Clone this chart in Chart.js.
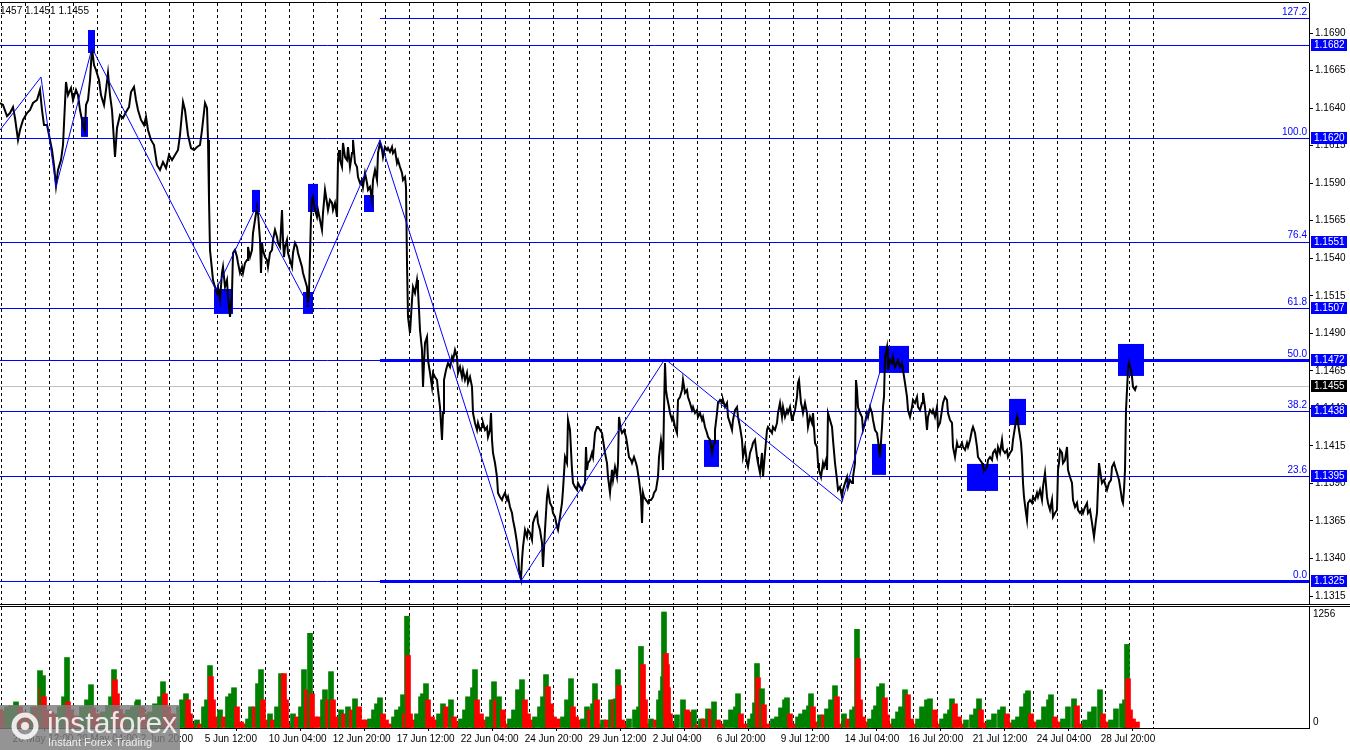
<!DOCTYPE html>
<html>
<head>
<meta charset="utf-8">
<script src="https://cdn.jsdelivr.net/npm/chart.js@4.4.0/dist/chart.umd.min.js"></script>
<style>
  body { margin: 0; background: #fff; width: 1350px; height: 750px; overflow: hidden; position: relative; }
  #price { position: absolute; left: 0; top: 0; width: 1350px; height: 605px; }
  #vol { position: absolute; left: 0; top: 605px; width: 1350px; height: 145px; }
</style>
</head>
<body>
<canvas id="price" width="1350" height="605"></canvas>
<canvas id="vol" width="1350" height="145"></canvas>
<script>
// EURUSD H1, one unit on x = one hourly bar
const priceLine = [
  [0,1.16434],[3,1.16421],[7,1.16347],[10,1.16367],[13,1.16407],[15,1.16334],[18,1.16188],[20,1.16254],
  [23,1.16321],[27,1.16367],[30,1.16387],[33,1.16434],[37,1.16454],[40,1.16521],[42,1.16387],[44,1.16287],
  [47,1.16287],[49,1.16221],[52,1.16121],[54,1.16021],[56,1.15881],[58,1.15988],[61,1.16054],[63,1.16154],
  [66,1.16574],[68,1.16487],[71,1.16534],[73,1.16454],[76,1.16521],[78,1.16487],[80,1.16387],[83,1.16287],
  [85,1.16248],[86,1.16421],[88,1.16454],[90,1.16587],[92,1.16800],[94,1.16687],[96,1.16654],[99,1.16587],
  [101,1.16487],[104,1.16421],[106,1.16521],[108,1.16634],[110,1.16487],[112,1.16387],[115,1.16074],[117,1.16268],
  [120,1.16354],[123,1.16334],[126,1.16374],[129,1.16407],[131,1.16507],[134,1.16541],[136,1.16454],[138,1.16387],
  [141,1.16321],[144,1.16287],[146,1.16341],[148,1.16254],[151,1.16188],[154,1.16154],[157,1.16021],[160,1.15988],
  [163,1.16041],[166,1.16001],[169,1.16088],[172,1.16054],[175,1.16088],[178,1.16121],[180,1.16221],[183,1.16441],
  [185,1.16387],[188,1.16221],[191,1.16134],[194,1.16121],[197,1.16141],[200,1.16154],[202,1.16254],[205,1.16434],
  [207,1.16401],[208,1.16188],[209,1.15788],[210,1.15455],[212,1.15322],[213,1.15255],[215,1.15209],[217,1.15169],
  [218,1.15209],[220,1.15122],[222,1.15302],[223,1.15342],[225,1.15209],[227,1.15255],[228,1.15142],[230,1.15009],
  [232,1.15169],[233,1.15435],[235,1.15455],[237,1.15408],[238,1.15368],[240,1.15302],[242,1.15342],[243,1.15302],
  [245,1.15368],[247,1.15388],[248,1.15475],[250,1.15408],[252,1.15455],[253,1.15568],[255,1.15655],[257,1.15741],
  [258,1.15701],[260,1.15522],[261,1.15302],[262,1.15502],[263,1.15455],[265,1.15408],[267,1.15388],[268,1.15342],
  [270,1.15435],[272,1.15455],[273,1.15522],[275,1.15588],[277,1.15542],[278,1.15502],[280,1.15475],[282,1.15721],
  [283,1.15522],[284,1.15408],[285,1.15475],[287,1.15522],[288,1.15435],[290,1.15388],[292,1.15342],[293,1.15435],
  [295,1.15502],[297,1.15475],[298,1.15435],[300,1.15388],[302,1.15342],[303,1.15302],[305,1.15255],[307,1.15209],
  [308,1.15075],[309,1.15169],[311,1.15675],[312,1.15788],[313,1.15808],[315,1.15721],[317,1.15675],[318,1.15721],
  [320,1.15655],[322,1.15588],[323,1.15701],[325,1.15855],[327,1.15768],[328,1.15721],[330,1.15788],[332,1.15768],
  [333,1.15721],[335,1.15768],[337,1.15675],[338,1.16054],[339,1.16121],[340,1.16054],[342,1.16008],[343,1.16168],
  [345,1.16074],[347,1.16054],[348,1.16141],[350,1.16008],[352,1.16101],[353,1.16188],[355,1.16034],[357,1.16008],
  [358,1.15941],[360,1.15901],[362,1.15921],[363,1.15875],[365,1.15968],[367,1.15901],[368,1.15855],[370,1.15875],
  [372,1.15788],[373,1.15921],[375,1.15988],[377,1.15921],[378,1.16101],[380,1.16168],[382,1.16121],[383,1.16074],
  [385,1.16141],[387,1.16121],[388,1.16134],[390,1.16108],[392,1.16141],[393,1.16101],[395,1.16121],[397,1.16034],
  [398,1.16054],[400,1.16008],[402,1.15968],[403,1.15921],[405,1.15941],[406,1.15875],[407,1.15368],[408,1.15009],
  [410,1.14902],[412,1.15122],[413,1.15209],[415,1.15169],[417,1.15255],[418,1.15189],[420,1.14922],[422,1.14789],
  [423,1.14543],[424,1.14702],[425,1.14836],[427,1.14876],[428,1.14722],[430,1.14636],[432,1.14543],[433,1.14636],
  [435,1.14609],[437,1.14589],[438,1.14523],[440,1.14409],[442,1.14190],[443,1.14369],[444,1.14589],[446,1.14656],
  [448,1.14702],[450,1.14676],[452,1.14742],[453,1.14722],[455,1.14789],[457,1.14742],[458,1.14636],[460,1.14676],
  [462,1.14609],[463,1.14656],[465,1.14589],[467,1.14636],[468,1.14569],[470,1.14609],[472,1.14543],[473,1.14369],
  [475,1.14303],[477,1.14256],[478,1.14303],[480,1.14256],[482,1.14276],[483,1.14303],[485,1.14256],[487,1.14276],
  [488,1.14210],[490,1.14256],[491,1.14369],[492,1.14190],[493,1.14103],[495,1.14036],[497,1.13943],[498,1.13837],
  [500,1.13810],[502,1.13790],[503,1.13810],[505,1.13837],[507,1.13790],[508,1.13810],[510,1.13743],[512,1.13703],
  [513,1.13657],[515,1.13590],[517,1.13504],[518,1.13437],[519,1.13324],[521,1.13264],[522,1.13390],[523,1.13477],
  [525,1.13590],[527,1.13544],[528,1.13590],[530,1.13570],[532,1.13524],[533,1.13637],[535,1.13677],[537,1.13703],
  [538,1.13637],[540,1.13590],[542,1.13504],[543,1.13344],[545,1.13590],[547,1.13810],[548,1.13857],[550,1.13770],
  [552,1.13743],[553,1.13703],[555,1.13677],[557,1.13610],[558,1.13590],[560,1.13677],[562,1.13770],[563,1.13857],
  [565,1.14076],[567,1.14036],[568,1.14323],[570,1.14256],[572,1.13990],[573,1.13903],[575,1.13877],[577,1.13857],
  [578,1.13903],[580,1.13877],[582,1.13857],[583,1.13877],[585,1.13903],[586,1.14143],[587,1.13990],[588,1.14036],
  [590,1.14056],[592,1.14103],[593,1.14076],[595,1.14236],[597,1.14276],[598,1.14276],[600,1.14256],[602,1.14236],
  [603,1.14190],[605,1.14103],[607,1.14036],[608,1.13943],[610,1.13837],[612,1.13990],[613,1.13923],[615,1.14010],
  [617,1.13943],[618,1.14036],[619,1.14343],[621,1.14256],[622,1.14236],[624,1.14256],[626,1.14210],[627,1.14170],
  [629,1.14076],[631,1.14056],[632,1.14036],[634,1.14076],[636,1.14036],[637,1.14010],[639,1.13923],[641,1.13810],
  [642,1.13637],[643,1.13837],[644,1.13810],[646,1.13790],[648,1.13770],[649,1.13790],[651,1.13790],[653,1.13810],
  [654,1.13837],[656,1.13857],[658,1.13943],[659,1.14076],[661,1.14190],[662,1.14143],[663,1.13990],[664,1.14389],
  [665,1.14702],[666,1.14523],[667,1.14476],[669,1.14409],[670,1.14369],[672,1.14323],[673,1.14343],[675,1.14276],
  [677,1.14236],[678,1.14456],[680,1.14476],[682,1.14523],[683,1.14589],[685,1.14503],[687,1.14523],[688,1.14476],
  [690,1.14436],[692,1.14389],[693,1.14409],[695,1.14369],[697,1.14389],[698,1.14343],[700,1.14369],[702,1.14323],
  [703,1.14343],[705,1.14276],[707,1.14236],[708,1.14210],[710,1.14190],[712,1.14103],[713,1.14143],[714,1.14170],
  [715,1.14256],[717,1.14369],[718,1.14436],[720,1.14456],[722,1.14436],[723,1.14456],[725,1.14409],[727,1.14436],
  [728,1.14343],[730,1.14303],[732,1.14256],[733,1.14323],[735,1.14389],[737,1.14409],[738,1.14343],[740,1.14276],
  [742,1.14190],[743,1.14076],[745,1.14143],[747,1.14036],[748,1.14010],[750,1.14103],[752,1.14143],[753,1.14170],
  [755,1.14190],[757,1.14076],[758,1.14036],[760,1.13970],[762,1.14103],[763,1.13943],[765,1.14103],[767,1.14256],
  [768,1.14276],[770,1.14256],[772,1.14236],[773,1.14276],[775,1.14256],[777,1.14303],[778,1.14369],[780,1.14436],
  [782,1.14343],[783,1.14409],[785,1.14343],[787,1.14389],[788,1.14369],[790,1.14409],[792,1.14323],[793,1.14343],
  [795,1.14389],[797,1.14476],[798,1.14569],[799,1.14589],[801,1.14436],[802,1.14409],[803,1.14369],[805,1.14436],
  [807,1.14369],[808,1.14276],[810,1.14343],[812,1.14303],[813,1.14369],[815,1.14170],[817,1.14143],[818,1.14036],
  [819,1.13990],[821,1.13943],[823,1.14036],[824,1.14010],[826,1.14056],[827,1.13990],[828,1.14369],[830,1.14323],
  [832,1.14276],[833,1.14190],[835,1.14036],[837,1.13923],[838,1.13857],[840,1.13877],[842,1.13810],[843,1.13857],
  [845,1.13903],[847,1.13943],[848,1.13877],[850,1.13923],[852,1.13903],[853,1.13943],[855,1.14036],[856,1.14589],
  [857,1.14523],[858,1.14409],[860,1.14369],[862,1.14343],[863,1.14256],[865,1.14303],[867,1.14369],[868,1.14343],
  [870,1.14409],[872,1.14369],[873,1.14323],[875,1.14256],[877,1.14236],[878,1.14190],[880,1.14076],[882,1.14276],
  [883,1.14409],[884,1.14476],[885,1.14742],[887,1.14809],[888,1.14656],[890,1.14722],[892,1.14702],[893,1.14742],
  [895,1.14676],[897,1.14702],[898,1.14722],[900,1.14676],[902,1.14702],[903,1.14656],[905,1.14569],[907,1.14476],
  [908,1.14389],[910,1.14343],[912,1.14409],[913,1.14456],[915,1.14436],[917,1.14476],[918,1.14409],[920,1.14389],
  [922,1.14436],[923,1.14503],[925,1.14409],[927,1.14256],[928,1.14343],[930,1.14389],[932,1.14369],[933,1.14389],
  [935,1.14343],[937,1.14409],[938,1.14276],[940,1.14303],[942,1.14389],[943,1.14436],[945,1.14476],[947,1.14456],
  [948,1.14369],[950,1.14323],[952,1.14303],[953,1.14143],[955,1.14076],[957,1.14170],[958,1.14143],[960,1.14143],
  [962,1.14170],[963,1.14143],[965,1.14123],[967,1.14170],[968,1.14143],[970,1.14190],[972,1.14256],[973,1.14276],
  [975,1.14236],[977,1.14143],[978,1.14076],[980,1.14056],[982,1.14036],[983,1.14010],[985,1.13990],[987,1.14010],
  [988,1.14056],[990,1.14076],[992,1.14056],[993,1.14103],[995,1.14123],[997,1.14076],[998,1.14143],[1000,1.14103],
  [1002,1.14190],[1003,1.14123],[1005,1.14103],[1007,1.14123],[1008,1.14076],[1010,1.14103],[1012,1.14123],[1013,1.14190],
  [1015,1.14276],[1017,1.14343],[1018,1.14303],[1019,1.14256],[1021,1.14170],[1022,1.14076],[1023,1.13903],[1024,1.13810],
  [1026,1.13703],[1027,1.13657],[1028,1.13770],[1030,1.13790],[1032,1.13770],[1033,1.13810],[1035,1.13790],[1037,1.13837],
  [1038,1.13810],[1040,1.13857],[1042,1.13790],[1043,1.13877],[1045,1.13970],[1047,1.13810],[1048,1.13770],[1050,1.13723],
  [1052,1.13790],[1053,1.13677],[1055,1.13703],[1057,1.13723],[1058,1.13990],[1059,1.14036],[1060,1.14123],[1062,1.14103],
  [1063,1.14036],[1065,1.14056],[1067,1.14143],[1068,1.13990],[1070,1.13943],[1072,1.13903],[1073,1.13790],[1075,1.13743],
  [1077,1.13770],[1078,1.13723],[1080,1.13703],[1082,1.13723],[1083,1.13703],[1085,1.13743],[1087,1.13770],[1088,1.13703],
  [1090,1.13723],[1092,1.13637],[1093,1.13590],[1094,1.13544],[1096,1.13657],[1097,1.13703],[1098,1.13877],[1099,1.14036],
  [1101,1.13943],[1102,1.13903],[1104,1.13923],[1106,1.13877],[1107,1.13857],[1109,1.13903],[1111,1.13923],[1112,1.14010],
  [1114,1.14036],[1116,1.13990],[1117,1.13970],[1119,1.13923],[1121,1.13837],[1122,1.13790],[1123,1.13770],[1124,1.13857],
  [1125,1.13990],[1126,1.14389],[1127,1.14523],[1128,1.14656],[1129,1.14702],[1131,1.14656],[1132,1.14609],[1133,1.14543],
  [1135,1.14523],[1136,1.14543],[1137,1.14550]
];

// zigzag swing points
const zigzag = [
  [0,1.16254],[41,1.16607],[56,1.15875],[92,1.16800],[216,1.15189],[256,1.15741],[308,1.15089],
  [380,1.16188],[521,1.13250],[665,1.14729],[842,1.13777],[884,1.14736]
];

// blue rectangles: first bar, last bar, top price, bottom price
const boxFrom   = [88, 81, 308, 252, 364, 214, 303, 704, 872, 879, 967, 1009, 1118];
const boxTo     = [95, 88, 318, 260, 374, 233, 313, 719, 886, 909, 998, 1026, 1144];
const boxTop    = [1.16920, 1.16341, 1.15895, 1.15855, 1.15821, 1.15195, 1.15175, 1.14190, 1.14163, 1.14816, 1.14030, 1.14463, 1.14829];
const boxBottom = [1.16767, 1.16208, 1.15708, 1.15708, 1.15708, 1.15029, 1.15029, 1.14010, 1.13957, 1.14636, 1.13850, 1.14289, 1.14616];

// horizontal levels with price tags, Fibonacci grid
const levelPrices = [1.1682, 1.1620, 1.1551, 1.1507, 1.1472, 1.1438, 1.1395, 1.1325];
const fibNames  = ['127.2', '100.0', '76.4', '61.8', '50.0', '38.2', '23.6', '0.0'];
const fibPrices = [1.1700, 1.1620, 1.1551, 1.1507, 1.1472, 1.1438, 1.1395, 1.1325];
const fibThick  = [1.1472, 1.1325];
const fibStartBar = 380;
const lastPrice = 1.1455;

const priceTicks = [1.1315, 1.1340, 1.1365, 1.1390, 1.1415, 1.1440, 1.1465, 1.1490,
                    1.1515, 1.1540, 1.1565, 1.1590, 1.1615, 1.1640, 1.1665, 1.1690];

const timeLabelBars = [12.7, 76.7, 140.7, 204.7, 268.7, 332.7, 396.7, 460.7, 524.7, 588.7,
                       652.7, 716.7, 780.7, 844.7, 908.7, 972.7, 1036.7, 1100.7];
const timeLabels = ['26 May 12:00', '29 May 04:00', '2 Jun 20:00', '5 Jun 12:00', '10 Jun 04:00',
                    '12 Jun 20:00', '17 Jun 12:00', '22 Jun 04:00', '24 Jun 20:00', '29 Jun 12:00',
                    '2 Jul 04:00', '6 Jul 20:00', '9 Jul 12:00', '14 Jul 04:00', '16 Jul 20:00',
                    '21 Jul 12:00', '24 Jul 04:00', '28 Jul 20:00'];

// tick volume, [bar, volume]
const volumeBars = [
  [0,196],[4,185],[7,229],[11,240],[16,283],[20,229],[24,174],[29,153],[33,229],[36,229],[40,621],[42,436],
  [43,567],[44,338],[47,196],[51,174],[55,153],[60,229],[64,338],[67,763],[68,283],[71,196],[77,131],[82,229],
  [87,305],[91,469],[93,218],[98,153],[103,174],[108,240],[111,338],[114,632],[115,523],[117,371],[120,196],
  [124,153],[128,196],[133,229],[137,283],[138,305],[142,229],[146,153],[150,174],[155,262],[160,338],[163,501],
  [165,371],[168,229],[173,153],[179,229],[182,305],[186,371],[188,305],[190,153],[193,44],[197,87],[200,44],
  [204,229],[207,305],[210,676],[211,556],[213,305],[217,120],[220,196],[224,120],[228,338],[231,371],[234,436],
  [237,229],[241,65],[244,44],[248,98],[251,229],[255,229],[258,480],[261,632],[263,305],[266,87],[270,153],
  [273,87],[277,229],[281,589],[284,589],[286,305],[290,44],[293,153],[297,120],[301,229],[304,632],[307,414],
  [310,1025],[312,371],[315,120],[319,120],[323,305],[325,414],[328,305],[331,610],[333,305],[337,120],[341,196],
  [344,153],[348,229],[352,196],[355,316],[359,229],[363,87],[366,87],[370,98],[374,196],[377,262],[380,327],
  [383,153],[386,87],[390,44],[394,120],[397,196],[401,229],[403,360],[405,153],[407,1210],[408,785],[410,153],
  [414,87],[417,153],[421,338],[423,371],[426,480],[428,305],[432,120],[435,87],[439,153],[443,262],[446,229],
  [451,305],[454,120],[457,65],[461,98],[465,196],[468,338],[473,436],[475,632],[477,305],[481,153],[485,87],
  [488,120],[492,305],[494,501],[496,305],[499,338],[503,196],[507,44],[510,98],[514,196],[518,414],[522,523],
  [525,305],[528,153],[532,87],[535,120],[540,229],[543,338],[546,578],[548,447],[551,262],[554,120],[558,98],
  [563,120],[567,305],[571,534],[573,229],[576,120],[579,87],[583,98],[587,229],[590,196],[593,262],[595,480],
  [597,305],[600,44],[603,87],[607,87],[611,305],[614,305],[616,316],[618,632],[619,458],[622,87],[626,44],
  [629,98],[635,196],[639,229],[641,883],[643,687],[645,305],[648,44],[651,98],[656,87],[659,305],[661,403],
  [663,556],[664,1256],[666,807],[667,687],[668,436],[670,153],[674,44],[677,142],[683,305],[687,196],[690,174],
  [694,196],[698,33],[701,98],[704,98],[708,207],[711,196],[714,283],[718,87],[722,44],[726,87],[731,196],
  [736,229],[738,371],[741,153],[745,44],[750,98],[753,153],[755,273],[757,698],[758,545],[761,338],[762,425],
  [764,251],[768,44],[773,98],[777,120],[781,218],[785,305],[787,327],[790,153],[794,44],[798,120],[801,153],
  [805,196],[809,240],[811,371],[813,229],[816,65],[820,142],[824,142],[827,207],[831,305],[835,458],[837,338],
  [840,44],[844,153],[848,98],[852,196],[855,229],[857,1068],[858,752],[860,305],[863,120],[866,65],[870,98],
  [874,196],[876,240],[879,447],[882,480],[885,327],[887,142],[891,44],[894,98],[898,174],[901,229],[905,414],
  [908,360],[911,98],[914,44],[918,98],[922,229],[927,305],[930,316],[935,196],[938,44],[942,98],[946,153],
  [950,196],[952,316],[955,262],[959,120],[963,44],[966,87],[972,142],[976,207],[979,316],[981,196],[985,55],
  [989,87],[994,153],[1000,196],[1003,229],[1007,153],[1011,55],[1014,87],[1018,120],[1022,229],[1026,371],
  [1028,403],[1031,153],[1035,65],[1039,87],[1044,229],[1049,305],[1051,360],[1055,120],[1059,65],[1063,98],
  [1068,229],[1074,316],[1077,240],[1081,44],[1085,87],[1090,174],[1094,229],[1100,414],[1103,153],[1107,65],
  [1111,87],[1116,207],[1122,262],[1125,305],[1127,905],[1128,534],[1130,196],[1133,98],[1137,65]
];
const volumeTop = 1256;

const FONT = "'Liberation Sans', Arial, sans-serif";
Chart.defaults.font.family = FONT;
Chart.defaults.font.size = 10;
Chart.defaults.color = '#000';

const BLUE = '#0000ff';
const barsPerDay = 24;
const firstMidnight = 0.7;
const lastBarShown = 1160;

function drawDaySeparators(chart) {
  const { ctx, chartArea: a, scales: { x } } = chart;
  ctx.save();
  ctx.strokeStyle = '#000';
  ctx.lineWidth = 1;
  ctx.setLineDash([3, 3]);
  for (let d = firstMidnight; d <= lastBarShown; d += barsPerDay) {
    const px = Math.round(x.getPixelForValue(d)) + 0.5;
    ctx.beginPath();
    ctx.moveTo(px, a.top);
    ctx.lineTo(px, a.bottom);
    ctx.stroke();
  }
  ctx.restore();
}

const pricePlugin = {
  id: 'pricePlugin',
  beforeDatasetsDraw(chart) {
    const { ctx, chartArea: a, scales: { x, y } } = chart;
    drawDaySeparators(chart);
    ctx.save();
    const py = v => Math.round(y.getPixelForValue(v)) + 0.5;

    // last price line
    ctx.strokeStyle = '#c0c0c0';
    ctx.lineWidth = 1;
    ctx.beginPath(); ctx.moveTo(a.left, py(lastPrice)); ctx.lineTo(a.right, py(lastPrice)); ctx.stroke();

    // full width levels
    ctx.strokeStyle = BLUE;
    levelPrices.forEach(p => {
      ctx.beginPath(); ctx.moveTo(a.left, py(p)); ctx.lineTo(a.right, py(p)); ctx.stroke();
    });
    // fibo grid
    const fx = x.getPixelForValue(fibStartBar);
    fibPrices.forEach(p => {
      ctx.beginPath(); ctx.moveTo(fx, py(p)); ctx.lineTo(a.right, py(p)); ctx.stroke();
    });
    ctx.lineWidth = 3;
    fibThick.forEach(p => {
      ctx.beginPath(); ctx.moveTo(fx, py(p)); ctx.lineTo(a.right, py(p)); ctx.stroke();
    });

    // rectangles
    ctx.fillStyle = BLUE;
    boxFrom.forEach((b, i) => {
      const x1 = x.getPixelForValue(b), x2 = x.getPixelForValue(boxTo[i]);
      const y1 = y.getPixelForValue(boxTop[i]), y2 = y.getPixelForValue(boxBottom[i]);
      ctx.fillRect(x1, y1, x2 - x1, y2 - y1);
    });
    ctx.restore();
  },
  afterDraw(chart) {
    const { ctx, chartArea: a, scales: { y } } = chart;
    ctx.save();
    // frame
    ctx.strokeStyle = '#000';
    ctx.lineWidth = 1;
    ctx.beginPath(); ctx.moveTo(0, 2.5); ctx.lineTo(a.right, 2.5); ctx.stroke();
    ctx.beginPath(); ctx.moveTo(0, chart.height - 0.5); ctx.lineTo(chart.width, chart.height - 0.5); ctx.stroke();

    // fibo names
    ctx.font = '10px ' + FONT;
    ctx.fillStyle = BLUE;
    ctx.textAlign = 'right';
    ctx.textBaseline = 'bottom';
    fibPrices.forEach((p, i) => ctx.fillText(fibNames[i], a.right - 2, y.getPixelForValue(p) - 1));

    // price tags on the axis
    ctx.textAlign = 'left';
    ctx.textBaseline = 'middle';
    const tag = (p, bg) => {
      const cy = Math.round(y.getPixelForValue(p));
      ctx.fillStyle = bg;
      ctx.fillRect(a.right + 2, cy - 6, 36, 12);
      ctx.fillStyle = '#fff';
      ctx.fillText(p.toFixed(4), a.right + 5, cy + 0.5);
    };
    levelPrices.forEach(p => tag(p, BLUE));
    tag(lastPrice, '#000');

    // header
    ctx.fillStyle = '#000';
    ctx.textBaseline = 'alphabetic';
    ctx.fillText('1457 1.1451 1.1455', 0, 14);
    ctx.restore();
  }
};

new Chart(document.getElementById('price'), {
  type: 'line',
  data: {
    datasets: [
      { data: zigzag.map(p => ({ x: p[0], y: p[1] })), borderColor: BLUE, borderWidth: 1,
        pointRadius: 0, tension: 0, order: 0 },
      { data: priceLine.map(p => ({ x: p[0], y: p[1] })), borderColor: '#000', borderWidth: 2,
        pointRadius: 0, tension: 0, order: 1 }
    ]
  },
  options: {
    responsive: false,
    animation: false,
    devicePixelRatio: 1,
    layout: { padding: { top: 3, bottom: 1, left: 0, right: 0 } },
    plugins: { legend: { display: false }, tooltip: { enabled: false } },
    scales: {
      x: { type: 'linear', min: 0, max: 1309, display: false },
      y: {
        position: 'right',
        min: 1.13097,
        max: 1.17100,
        afterBuildTicks: s => { s.ticks = priceTicks.map(v => ({ value: v })); },
        afterFit: s => { s.width = 41; s.paddingTop = 0; s.paddingBottom = 0; },
        ticks: { callback: v => Number(v).toFixed(4), padding: 2, autoSkip: false, color: '#000' },
        grid: { drawOnChartArea: false, drawTicks: true, tickLength: 4, color: '#000' },
        border: { display: true, color: '#000' }
      }
    }
  },
  plugins: [pricePlugin]
});

const volumePlugin = {
  id: 'volumePlugin',
  beforeDatasetsDraw(chart) { drawDaySeparators(chart); },
  afterDraw(chart) {
    const { ctx, chartArea: a, scales: { y } } = chart;
    ctx.save();
    ctx.strokeStyle = '#000';
    ctx.lineWidth = 1;
    ctx.beginPath(); ctx.moveTo(0, 1.5); ctx.lineTo(chart.width, 1.5); ctx.stroke();

    ctx.font = '10px ' + FONT;
    ctx.fillStyle = '#000';
    ctx.textAlign = 'left';
    ctx.textBaseline = 'middle';
    ctx.fillText(String(volumeTop), a.right + 4, y.getPixelForValue(volumeTop) + 2);
    ctx.fillText('0', a.right + 4, a.bottom - 6);

    // instaforex watermark
    const wy = 100;
    ctx.fillStyle = 'rgba(125,125,125,0.82)';
    ctx.fillRect(0, wy, 180, chart.height - wy);
    ctx.strokeStyle = 'rgba(255,255,255,0.85)';
    ctx.lineWidth = 5;
    ctx.beginPath(); ctx.arc(25, wy + 21, 11, 0, Math.PI * 2); ctx.stroke();
    ctx.fillStyle = 'rgba(255,255,255,0.85)';
    ctx.beginPath(); ctx.arc(25, wy + 21, 4, 0, Math.PI * 2); ctx.fill();
    ctx.font = '30px ' + FONT;
    ctx.textBaseline = 'alphabetic';
    ctx.fillText('instaforex', 47, wy + 28);
    ctx.font = '11px ' + FONT;
    ctx.fillText('Instant Forex Trading', 48, wy + 41);
    ctx.restore();
  }
};

new Chart(document.getElementById('vol'), {
  type: 'bar',
  data: {
    datasets: [{
      data: volumeBars.map(p => ({ x: p[0], y: p[1] })),
      backgroundColor: c => (c.dataIndex > 0 && volumeBars[c.dataIndex][1] > volumeBars[c.dataIndex - 1][1]) ? '#008000' : '#ff0000',
      barThickness: 5,
      borderWidth: 0
    }]
  },
  options: {
    responsive: false,
    animation: false,
    devicePixelRatio: 1,
    layout: { padding: { top: 2, bottom: 0, left: 0, right: 0 } },
    plugins: { legend: { display: false }, tooltip: { enabled: false } },
    scales: {
      x: {
        type: 'linear', min: 0, max: 1309, offset: false,
        afterBuildTicks: s => { s.ticks = timeLabelBars.map(v => ({ value: v })); },
        afterFit: s => { s.height = 22; s.paddingLeft = 0; s.paddingRight = 0; },
        ticks: { align: 'start', autoSkip: false, maxRotation: 0, padding: 2,
                 callback: (v, i) => timeLabels[i], color: '#000' },
        grid: { drawOnChartArea: false, drawTicks: true, tickLength: 3, color: '#000' },
        border: { display: true, color: '#000' }
      },
      y: {
        position: 'right', min: 0, max: 1310,
        afterFit: s => { s.width = 41; s.paddingTop = 0; s.paddingBottom = 0; },
        ticks: { display: false },
        grid: { drawOnChartArea: false, drawTicks: false, color: '#000' },
        border: { display: true, color: '#000' }
      }
    }
  },
  plugins: [volumePlugin]
});
</script>
</body>
</html>
